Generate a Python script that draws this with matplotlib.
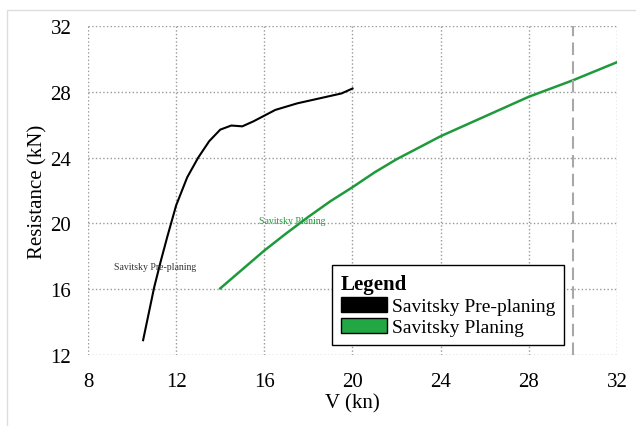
import matplotlib
matplotlib.use("Agg")
import matplotlib.pyplot as plt
from matplotlib.patches import Patch, Rectangle

plt.rcParams['font.family'] = ['Liberation Serif', 'DejaVu Serif']

# Savitsky pre-planing resistance
v_pre = [10.5, 10.75, 11.0, 11.3, 11.6, 12.0, 12.5, 13.0, 13.5, 14.0, 14.5, 15.0,
         15.5, 16.0, 16.5, 17.0, 17.5, 18.0, 18.5, 19.0, 19.5, 20.0]
r_pre = [12.9, 14.5, 16.1, 17.7, 19.2, 21.1, 22.8, 24.0, 25.0, 25.7, 25.95, 25.9,
         26.2, 26.55, 26.9, 27.1, 27.3, 27.45, 27.6, 27.75, 27.9, 28.2]

# Savitsky planing resistance
v_pl = [14, 15, 16, 17, 18, 19, 20, 21, 22, 23, 24, 25, 26, 27, 28, 29, 30, 31, 32]
r_pl = [16.05, 17.2, 18.35, 19.4, 20.4, 21.35, 22.2, 23.1, 23.9, 24.6, 25.3, 25.9,
        26.5, 27.1, 27.7, 28.2, 28.7, 29.25, 29.8]

v_design = 30
xticks = [8, 12, 16, 20, 24, 28, 32]
yticks = [12, 16, 20, 24, 28, 32]

green = '#1e9a3c'

fig = plt.figure(figsize=(6.36, 4.27), dpi=100)
# faint frame round the picture
fig.patches.append(Rectangle((7 / 636, -0.01), 1.0, 1 - 11 / 427 + 0.01,
                             transform=fig.transFigure, fill=False,
                             edgecolor='#dddddd', linewidth=1))
ax = fig.add_axes([88 / 636, 1 - 356 / 427, 529 / 636, 329 / 427])

ax.plot(v_pre, r_pre, color='black', linewidth=1.5)
ax.plot(v_pl, r_pl, color=green, linewidth=1.8)
ax.axvline(v_design, color='#a8a8a8', linewidth=1.5, linestyle=(0, (6, 3)))

ax.text(11.06, 17.35, 'Savitsky Pre-planing', fontsize=7, color='#333333',
        ha='center', va='center')
ax.text(17.26, 20.15, 'Savitsky Planing', fontsize=7, color=green,
        ha='center', va='center')

ax.set_xlim(8, 32)
ax.set_ylim(12, 32)
ax.set_xticks(xticks)
ax.set_yticks(yticks)
ax.tick_params(length=0, labelsize=15, pad=12)
ax.grid(True, linestyle=':', color='#999999', linewidth=1)
for s in ax.spines.values():
    s.set_visible(False)

ax.set_xlabel('V (kn)', fontsize=15, labelpad=2)
ax.set_ylabel('Resistance (kN)', fontsize=15, labelpad=2)

handles = [Patch(facecolor='black', edgecolor='black', label='Savitsky Pre-planing'),
           Patch(facecolor='#22a745', edgecolor='black', label='Savitsky Planing')]
leg = ax.legend(handles=handles, title='Legend', loc='lower left',
                bbox_to_anchor=(0.461, 0.03), fontsize=14, fancybox=False,
                framealpha=1, edgecolor='black', handlelength=2.4,
                handleheight=0.8, handletextpad=0.25, borderpad=0.45,
                labelspacing=0.15, borderaxespad=0)
leg.get_title().set_fontweight('bold')
leg.get_title().set_fontsize(15)
leg._legend_box.align = 'left'
leg.get_frame().set_linewidth(1)

fig.savefig('out.png', dpi=100)
